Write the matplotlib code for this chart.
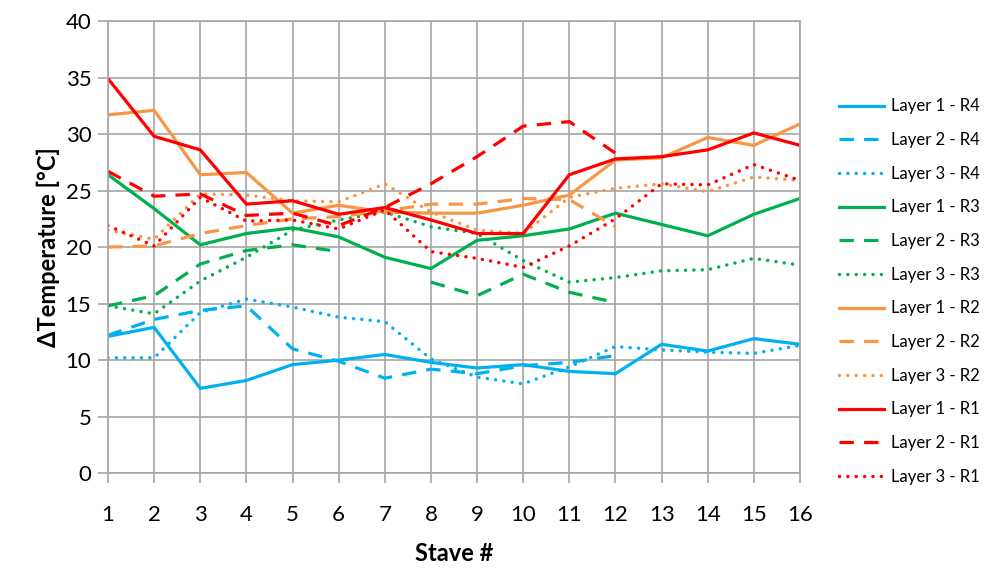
import numpy as np
import matplotlib
matplotlib.use("Agg")
import matplotlib.pyplot as plt

nan = np.nan

# Stave numbers on the x axis
staves = list(range(1, 17))

# Temperature rise per stave, one list per layer and region
layer1_r4 = [12.1, 12.9, 7.5, 8.2, 9.6, 10.0, 10.5, 9.8, 9.3, 9.6, 9.0, 8.8, 11.4, 10.8, 11.9, 11.4]
layer2_r4 = [12.2, 13.6, 14.4, 14.8, 11.0, 9.9, 8.4, 9.2, 8.8, 9.5, 9.8, 10.4, nan, nan, nan, nan]
layer3_r4 = [10.2, 10.2, 14.2, 15.4, 14.7, 13.8, 13.4, 10.1, 8.5, 7.9, 9.4, 11.2, 10.9, 10.7, 10.6, 11.3]

layer1_r3 = [26.4, 23.4, 20.2, 21.2, 21.7, 20.9, 19.1, 18.1, 20.6, 21.0, 21.6, 23.0, 22.0, 21.0, 22.9, 24.3]
layer2_r3 = [14.8, 15.7, 18.5, 19.7, 20.2, 19.6, nan, 16.9, 15.7, 17.6, 16.0, 15.1, nan, nan, nan, nan]
layer3_r3 = [14.8, 14.1, 17.0, 19.1, 21.5, 22.4, 23.1, 21.8, 21.2, 18.8, 16.9, 17.3, 17.9, 18.0, 19.0, 18.4]

layer1_r2 = [31.7, 32.1, 26.4, 26.6, 23.0, 23.7, 23.1, 23.0, 23.0, 23.7, 24.6, 27.7, 27.9, 29.7, 29.0, 30.9]
layer2_r2 = [20.0, 20.1, 21.2, 21.9, 22.5, 22.7, 23.2, 23.8, 23.8, 24.3, 24.2, 21.8, nan, nan, nan, nan]
layer3_r2 = [21.5, 20.7, 24.7, 24.6, 24.1, 24.0, 25.6, 23.1, 21.5, 21.2, 24.4, 25.2, 25.6, 24.9, 26.2, 25.9]

layer1_r1 = [34.9, 29.8, 28.6, 23.8, 24.1, 22.9, 23.5, 22.4, 21.2, 21.2, 26.4, 27.8, 28.0, 28.6, 30.1, 29.0]
layer2_r1 = [26.7, 24.5, 24.7, 22.8, 23.0, 21.9, 23.5, 25.6, 28.0, 30.7, 31.1, 28.3, nan, nan, nan, nan]
layer3_r1 = [21.9, 20.1, 24.4, 22.3, 22.4, 21.6, 23.3, 19.6, 19.0, 18.2, 20.1, 22.5, 25.6, 25.5, 27.3, 25.9]

series = [
    ("Layer 1 - R4", layer1_r4, "#00B0F0", "solid"),
    ("Layer 2 - R4", layer2_r4, "#00B0F0", "dashed"),
    ("Layer 3 - R4", layer3_r4, "#00B0F0", "dotted"),
    ("Layer 1 - R3", layer1_r3, "#00B050", "solid"),
    ("Layer 2 - R3", layer2_r3, "#00B050", "dashed"),
    ("Layer 3 - R3", layer3_r3, "#00B050", "dotted"),
    ("Layer 1 - R2", layer1_r2, "#F79646", "solid"),
    ("Layer 2 - R2", layer2_r2, "#F79646", "dashed"),
    ("Layer 3 - R2", layer3_r2, "#F79646", "dotted"),
    ("Layer 1 - R1", layer1_r1, "#FF0000", "solid"),
    ("Layer 2 - R1", layer2_r1, "#FF0000", "dashed"),
    ("Layer 3 - R1", layer3_r1, "#FF0000", "dotted"),
]

plt.rcParams["font.family"] = ["Lato", "DejaVu Sans"]

fig = plt.figure(figsize=(10, 5.68), dpi=100)
ax = fig.add_axes([0.108, 0.167, 0.692, 0.796])

lw = 2.3
for name, values, color, style in series:
    if style == "solid":
        ax.plot(staves, values, color=color, lw=lw, label=name, solid_joinstyle="miter")
    elif style == "dashed":
        ax.plot(staves, values, color=color, lw=lw, label=name,
                linestyle=(0, (4.5, 3.2)), dash_capstyle="butt")
    else:
        ax.plot(staves, values, color=color, lw=2.5, label=name,
                linestyle=(0, (0.01, 2.4)), dash_capstyle="round")

ax.set_xlim(1, 16)
ax.set_ylim(0, 40)
ax.set_xticks(staves)
ax.set_yticks(range(0, 41, 5))
ax.grid(True, color="#A6A6A6", lw=1.2)
ax.set_axisbelow(True)
for s in ax.spines.values():
    s.set_color("#A6A6A6")
    s.set_linewidth(1.2)
ax.tick_params(axis="both", direction="out", length=7, width=1.2, color="#A6A6A6",
               labelsize=16, labelcolor="black")
ax.tick_params(axis="x", pad=16)
ax.tick_params(axis="y", pad=5)

ax.set_xlabel("Stave #", fontsize=17, fontweight="bold", labelpad=12)
ax.set_ylabel("ΔTemperature [°C]", fontsize=17, fontweight="bold", labelpad=4)

fig.legend(loc="upper left", bbox_to_anchor=(0.824, 0.853), frameon=False,
           fontsize=12, handlelength=2.7, handletextpad=0.4, labelspacing=1.06)

fig.savefig("out.png", dpi=100)
